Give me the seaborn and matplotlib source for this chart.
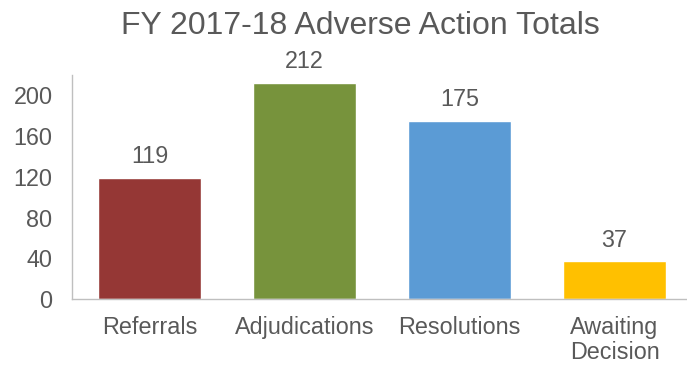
import matplotlib
matplotlib.use("Agg")
import matplotlib.pyplot as plt
import seaborn as sns
import pandas as pd

# data
categories = ["Referrals", "Adjudications", "Resolutions", "Awaiting\nDecision"]
totals = [119, 212, 175, 37]
bar_colors = ["#953735", "#77933C", "#5B9BD5", "#FFC000"]
yticks = [0, 40, 80, 120, 160, 200]

sns.set_theme(style="white")
plt.rcParams["font.family"] = ["Liberation Sans", "DejaVu Sans"]
text_gray = "#595959"
fs = 16.8

df = pd.DataFrame({"category": categories, "total": totals})

fig = plt.figure(figsize=(6.87, 3.66), dpi=100)
ax = fig.add_axes([72 / 687, 1 - 299 / 366, 620 / 687, 224 / 366])

sns.barplot(data=df, x="category", y="total", hue="category",
            palette=bar_colors, width=0.665, legend=False, ax=ax,
            saturation=1)

for c in ax.containers:
    ax.bar_label(c, fmt="%d", padding=7, fontsize=fs, color=text_gray)

ax.set_ylim(0, 220)
ax.set_xlim(-0.5, 3.5)
ax.set_yticks(yticks)
ax.set_xlabel("")
ax.set_ylabel("")
ax.tick_params(axis="both", length=0, labelsize=fs, colors=text_gray, pad=14)
ax.tick_params(axis="x", pad=12)
for lbl in ax.get_xticklabels():
    lbl.set_linespacing(1.15)

sns.despine(ax=ax, top=True, right=True)
for s in ["left", "bottom"]:
    ax.spines[s].set_color("#BFBFBF")
    ax.spines[s].set_linewidth(1)

fig.text(360 / 687, 1 - 34 / 366, "FY 2017-18 Adverse Action Totals",
         ha="center", va="baseline", fontsize=23, color=text_gray)

fig.savefig("out.png", dpi=100)
